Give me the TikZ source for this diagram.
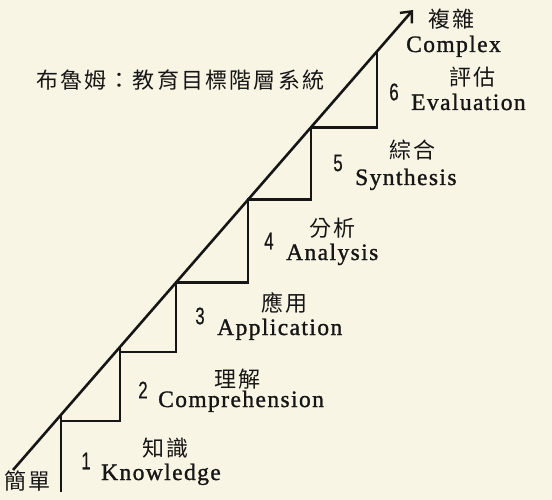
\documentclass[tikz,border=0pt]{standalone}
\usepackage{graphicx}
\usepackage{fontspec}
\setmainfont{Liberation Serif}
\newfontfamily\cjkf[LetterSpace=10]{Noto Sans CJK TC}
\newfontfamily\latf[LetterSpace=6,FakeBold=1.2]{Liberation Serif}
\newfontfamily\numf[FakeBold=0.6]{Liberation Sans}
\usetikzlibrary{arrows.meta}
\definecolor{paper}{RGB}{248,245,228}
\definecolor{ink}{RGB}{22,22,22}
\tikzset{
  cjklab/.style={font=\cjkf\fontsize{22}{22}\selectfont, inner sep=0pt, anchor=west, text=ink},
  latlab/.style={font=\latf\fontsize{23.5}{23.5}\selectfont, inner sep=0pt, anchor=base west, text=ink},
  numlab/.style={font=\numf\fontsize{24}{24}\selectfont, inner sep=0pt, text=ink},
  stairline/.style={draw=ink, line width=2.6pt, line join=miter},
  diagline/.style={draw=ink, line width=2.6pt, -{Straight Barb[length=9pt,width=16pt,line width=2.4pt]}}
}
\begin{document}
\begin{tikzpicture}[x=1pt,y=-1pt]
\fill[paper] (0,0) rectangle (552,500);
\useasboundingbox (0,0) rectangle (552,500);
% diagonal
\coordinate (d0) at (13,470);
\coordinate (d1) at (413,10);
\draw[diagline] (d0) -- (d1);
% stairs
\coordinate (s0) at (61,492);
\coordinate (s1t) at (61,414.8);
\coordinate (s1a) at (61,421);
\coordinate (s1b) at (120,421);
\coordinate (s2t) at (120,346.9);
\coordinate (s2a) at (120,352);
\coordinate (s2b) at (176,352);
\coordinate (s3t) at (176,282.5);
\coordinate (s3b) at (248,282.5);
\coordinate (s4t) at (248,199.8);
\coordinate (s4b) at (311,199.8);
\coordinate (s5t) at (311,127.5);
\coordinate (s5b) at (377,127.5);
\coordinate (s6t) at (377,51.4);
\draw[stairline] (s0) -- (s1t);
\draw[stairline] (s1a) -- (s1b) -- (s2t);
\draw[stairline] (s2a) -- (s2b) -- (s3t) -- (s3b) -- (s4t) -- (s4b) -- (s5t) -- (s5b) -- (s6t);
% title
\node[cjklab] (title) at (36,80) {布魯姆：教育目標階層系統};
% top / bottom labels
\node[cjklab] (complexzh) at (428,19) {複雜};
\node[latlab] (complexen) at (406,52) {Complex};
\node[cjklab] (simplezh) at (4,481) {簡單};
% level 6
\node[cjklab] (l6zh) at (449,77) {評估};
\node[numlab] (l6n) at (394,92) {\scalebox{0.7}[1]{6}};
\node[latlab] (l6en) at (411,110) {Evaluation};
% level 5
\node[cjklab] (l5zh) at (389,150) {綜合};
\node[numlab] (l5n) at (338,163) {\scalebox{0.7}[1]{5}};
\node[latlab] (l5en) at (355,185) {Synthesis};
% level 4
\node[cjklab] (l4zh) at (309,228) {分析};
\node[numlab] (l4n) at (269,241) {\scalebox{0.7}[1]{4}};
\node[latlab] (l4en) at (286,260) {Analysis};
% level 3
\node[cjklab] (l3zh) at (261,303) {應用};
\node[numlab] (l3n) at (200,316) {\scalebox{0.7}[1]{3}};
\node[latlab] (l3en) at (217,335) {Application};
% level 2
\node[cjklab] (l2zh) at (214,379) {理解};
\node[numlab] (l2n) at (143,390) {\scalebox{0.7}[1]{2}};
\node[latlab] (l2en) at (158,407) {Comprehension};
% level 1
\node[cjklab] (l1zh) at (142,448) {知識};
\node[numlab] (l1n) at (86,461) {\scalebox{0.7}[1]{1}};
\node[latlab] (l1en) at (101,480) {Knowledge};
\end{tikzpicture}
\end{document}
